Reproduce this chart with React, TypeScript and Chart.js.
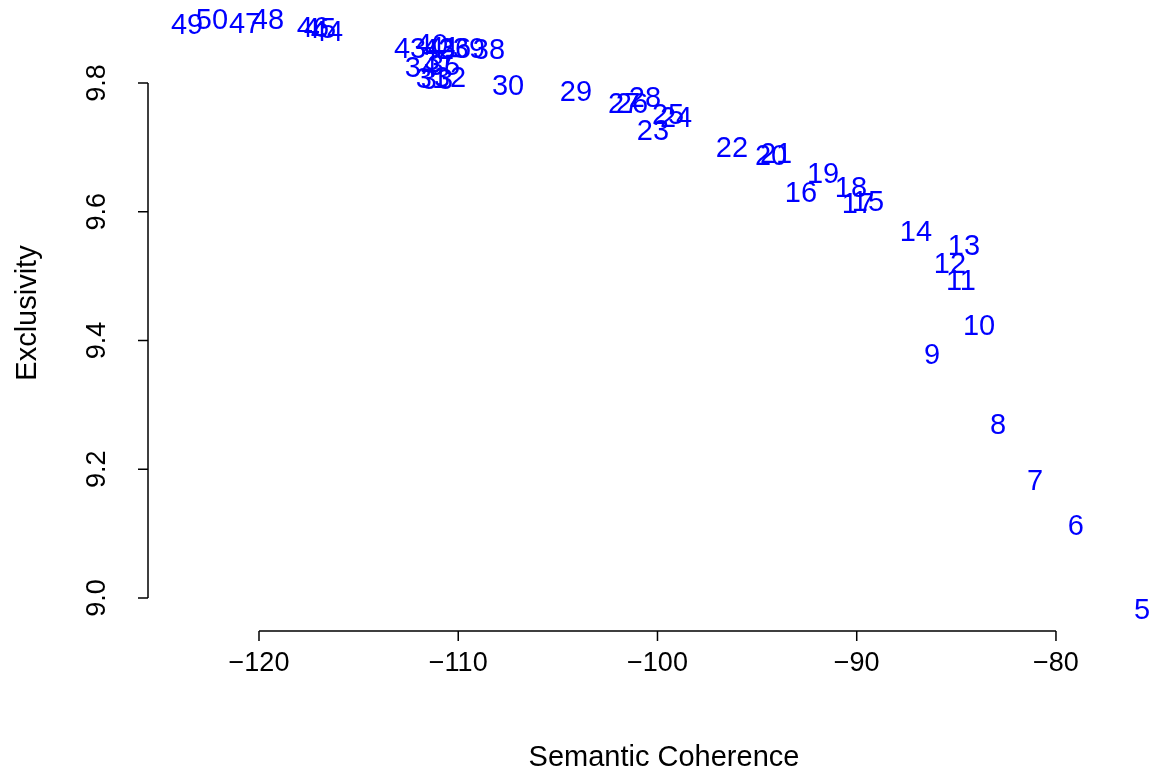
import React, { useEffect, useRef } from "react";
import { Chart, registerables } from "chart.js";

Chart.register(...registerables);

const topicIds = [
  5, 6, 7, 8, 9, 10, 11, 12, 13, 14, 15, 16, 17, 18, 19, 20, 21, 22, 23, 24, 25, 26, 27,
  28, 29, 30, 31, 32, 33, 34, 35, 36, 37, 38, 39, 40, 41, 42, 43, 44, 45, 46, 47, 48, 49, 50,
];
const semanticCoherence = [
  -75.68, -79.0, -81.05, -82.91, -86.22, -83.86, -84.77, -85.32, -84.62, -87.03, -89.44,
  -92.8, -89.94, -90.29, -91.69, -94.3, -94.05, -96.26, -100.23, -99.07, -99.47, -101.28,
  -101.68, -100.63, -104.09, -107.5, -111.32, -110.41, -111.07, -111.87, -110.72, -110.16,
  -110.92, -108.46, -109.46, -111.32, -110.72, -111.02, -112.42, -116.59, -116.94, -117.29,
  -120.7, -119.55, -123.61, -122.36,
];
const exclusivity = [
  8.981, 9.112, 9.182, 9.269, 9.377, 9.423, 9.492, 9.519, 9.547, 9.569, 9.615, 9.629,
  9.612, 9.637, 9.659, 9.687, 9.69, 9.699, 9.725, 9.746, 9.75, 9.767, 9.767, 9.777, 9.786,
  9.795, 9.806, 9.808, 9.805, 9.823, 9.826, 9.853, 9.834, 9.851, 9.853, 9.859, 9.854, 9.851,
  9.853, 9.879, 9.884, 9.885, 9.892, 9.898, 9.89, 9.898,
];
const xTicks = [-120, -110, -100, -90, -80];
const yTicks = [9.0, 9.2, 9.4, 9.6, 9.8];
const xTitle = "Semantic Coherence";
const yTitle = "Exclusivity";

const FAMILY = '"Liberation Sans", Arial, Helvetica, sans-serif';
const FONT = "29px " + FAMILY;
const TICK_FONT = "27px " + FAMILY;

export default function App() {
  const ref = useRef<HTMLCanvasElement | null>(null);

  useEffect(() => {
    if (!ref.current) return;
    const labelPlugin = {
      id: "rtext",
      afterDatasetsDraw(chart: any) {
        const ctx = chart.ctx;
        const xs = chart.scales.x;
        const ys = chart.scales.y;
        ctx.save();
        ctx.font = FONT;
        ctx.fillStyle = "#0000ff";
        ctx.textAlign = "center";
        ctx.textBaseline = "middle";
        topicIds.forEach((id, i) => {
          ctx.fillText(
            String(id),
            xs.getPixelForValue(semanticCoherence[i]),
            ys.getPixelForValue(exclusivity[i]) + 1
          );
        });
        ctx.restore();
      },
      afterDraw(chart: any) {
        const ctx = chart.ctx;
        const xs = chart.scales.x;
        const ys = chart.scales.y;
        const area = chart.chartArea;
        ctx.save();
        ctx.strokeStyle = "#000";
        ctx.lineWidth = 1.5;
        ctx.fillStyle = "#000";
        // x axis
        const xb = area.bottom;
        const x0 = xs.getPixelForValue(xTicks[0]);
        const x1 = xs.getPixelForValue(xTicks[xTicks.length - 1]);
        ctx.beginPath();
        ctx.moveTo(x0, xb);
        ctx.lineTo(x1, xb);
        xTicks.forEach((t) => {
          const px = xs.getPixelForValue(t);
          ctx.moveTo(px, xb);
          ctx.lineTo(px, xb + 10);
        });
        ctx.stroke();
        ctx.textAlign = "center";
        ctx.textBaseline = "middle";
        ctx.font = TICK_FONT;
        xTicks.forEach((t) => {
          ctx.fillText("\u2212" + String(Math.abs(t)), xs.getPixelForValue(t), 664);
        });
        ctx.font = FONT;
        ctx.fillText(xTitle, 664, 758);
        // y axis
        const yl = area.left;
        const y0 = ys.getPixelForValue(yTicks[0]);
        const y1 = ys.getPixelForValue(yTicks[yTicks.length - 1]);
        ctx.beginPath();
        ctx.moveTo(yl, y0);
        ctx.lineTo(yl, y1);
        yTicks.forEach((t) => {
          const py = ys.getPixelForValue(t);
          ctx.moveTo(yl, py);
          ctx.lineTo(yl - 10, py);
        });
        ctx.stroke();
        ctx.font = TICK_FONT;
        yTicks.forEach((t) => {
          ctx.save();
          ctx.translate(98, ys.getPixelForValue(t));
          ctx.rotate(-Math.PI / 2);
          ctx.fillText(t.toFixed(1), 0, 0);
          ctx.restore();
        });
        ctx.font = FONT;
        ctx.save();
        ctx.translate(28, 313);
        ctx.rotate(-Math.PI / 2);
        ctx.fillText(yTitle, 0, 0);
        ctx.restore();
        ctx.restore();
      },
    };

    const chart = new Chart(ref.current, {
      type: "scatter",
      data: {
        datasets: [
          {
            data: semanticCoherence.map((x, i) => ({ x, y: exclusivity[i] })),
            pointRadius: 0,
            pointHoverRadius: 0,
          },
        ],
      },
      options: {
        animation: false,
        responsive: false,
        devicePixelRatio: 1,
        layout: { padding: { left: 148, right: 0, top: 0, bottom: 143 } },
        plugins: { legend: { display: false }, tooltip: { enabled: false } },
        events: [],
        scales: {
          x: { type: "linear", display: false, min: -125.571, max: -75.13 },
          y: { type: "linear", display: false, min: 8.9487, max: 9.9289 },
        },
      },
      plugins: [labelPlugin],
    });
    return () => chart.destroy();
  }, []);

  return (
    <div style={{ position: "fixed", left: 0, top: 0, width: 1153, height: 774, background: "#fff" }}>
      <canvas ref={ref} width={1153} height={774} />
    </div>
  );
}
